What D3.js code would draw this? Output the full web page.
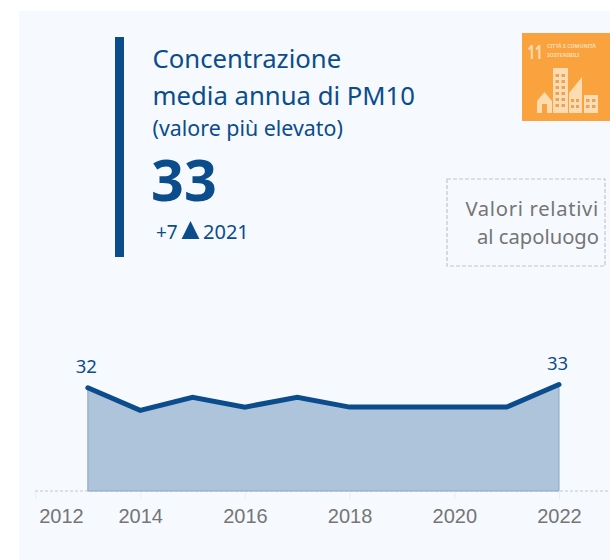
<!DOCTYPE html>
<html>
<head>
    <meta charset="utf-8">
    <title>Concentrazione media annua di PM10</title>
    <script src="https://d3js.org/d3.v7.min.js"></script>
    <style>
        body { margin: 0; background: #fff; }
        svg { display: block; font-family: "Noto Sans", "Open Sans", sans-serif; }
        .blue { fill: #0b4c8c; }
        .grey { fill: #757575; }
    </style>
</head>
<body>
    <svg id="chart" width="610" height="560"></svg>
    <script>
        // dati
        const years = [2013, 2014, 2015, 2016, 2017, 2018, 2019, 2020, 2021, 2022];
        const values = [32, 25, 29, 26, 29, 26, 26, 26, 26, 33];
        const tickYears = [2012, 2014, 2016, 2018, 2020, 2022];
        const titleLines = ["Concentrazione", "media annua di PM10"];
        const noteLines = ["Valori relativi", "al capoluogo"];

        const series = years.map((y, i) => ({year: y, value: values[i]}));

        const svg = d3.select("#chart");
        svg.append("rect").attr("x", 19).attr("y", 11).attr("width", 591).attr("height", 549).attr("fill", "#f6faff");

        // scale
        const x = d3.scaleLinear().domain([2012, 2022]).range([35.5, 559]);
        const y = d3.scaleLinear().domain([0, 33]).range([491, 384.5]);

        const area = d3.area().x(d => x(d.year)).y0(y(0)).y1(d => y(d.value));
        const line = d3.line().x(d => x(d.year)).y(d => y(d.value));

        // asse x
        const axis = svg.append("g")
            .attr("transform", `translate(0,${y(0)})`)
            .call(d3.axisBottom(x).tickValues(tickYears).tickFormat(d3.format("d")).tickSize(8).tickPadding(10));
        axis.select(".domain").remove();
        axis.selectAll("line").attr("stroke", "#e9edf0");
        axis.selectAll("text").attr("fill", "#757575").style("font-size", "20px");
        axis.selectAll(".tick").filter(d => d === 2012).select("text").attr("dx", 25.5);

        svg.append("line")
            .attr("x1", 35).attr("x2", 610).attr("y1", y(0)).attr("y2", y(0))
            .attr("stroke", "#c4c8cc").attr("stroke-width", 1).attr("stroke-dasharray", "3 2");

        // area e linea
        svg.append("path").datum(series).attr("d", area)
            .attr("fill", "#aec4da").attr("stroke", "#86a6c6").attr("stroke-width", 1);
        svg.append("path").datum(series).attr("d", line)
            .attr("fill", "none").attr("stroke", "#0b4c8c").attr("stroke-width", 5)
            .attr("stroke-linecap", "round").attr("stroke-linejoin", "miter");

        // etichette primo e ultimo valore
        svg.selectAll(".endLabel")
            .data([series[0], series[series.length - 1]])
            .enter()
            .append("text")
            .attr("class", "endLabel blue")
            .attr("x", d => x(d.year) - 1.5)
            .attr("y", d => y(d.value) - 15)
            .attr("text-anchor", "middle")
            .style("font-size", "18.5px")
            .text(d => d.value);

        // intestazione
        svg.append("rect").attr("x", 115).attr("y", 37).attr("width", 9).attr("height", 220).attr("fill", "#0b4c8c");
        svg.selectAll(".title")
            .data(titleLines)
            .enter()
            .append("text")
            .attr("class", "title blue")
            .attr("x", 152.5)
            .attr("y", (d, i) => 68 + i * 37)
            .style("font-size", "25.7px")
            .text(d => d);
        svg.append("text").attr("class", "blue").attr("x", 152.5).attr("y", 136)
            .style("font-size", "21.4px").text("(valore più elevato)");
        svg.append("text").attr("class", "blue").attr("x", 151).attr("y", 201)
            .style("font-size", "57.5px").style("font-weight", 700).text(series[series.length - 1].value);
        svg.append("text").attr("class", "blue").attr("x", 156).attr("y", 239)
            .style("font-size", "19px").text("+7");
        svg.append("path").attr("class", "blue")
            .attr("d", d3.symbol().type(d3.symbolTriangle).size(130))
            .attr("transform", "translate(190.5,233) scale(1.03,1.2)");
        svg.append("text").attr("class", "blue").attr("x", 203).attr("y", 239)
            .style("font-size", "20px").text("2021");

        // nota
        svg.append("rect").attr("x", 447).attr("y", 179).attr("width", 158).attr("height", 87)
            .attr("fill", "none").attr("stroke", "#c2c5c8").attr("stroke-width", 1.2).attr("stroke-dasharray", "4 2");
        svg.selectAll(".note")
            .data(noteLines)
            .enter()
            .append("text")
            .attr("class", "note grey")
            .attr("x", 599)
            .attr("y", (d, i) => 216 + i * 28)
            .attr("text-anchor", "end")
            .style("font-size", "20.2px")
            .style("letter-spacing", (d, i) => i === 0 ? "0.7px" : "0")
            .text(d => d);

        // icona SDG 11
        const icon = svg.append("g");
        const orange = "#f9a23e";
        const pale = "#fcdcb0";
        const dark = "#e8a45e";
        icon.append("rect").attr("x", 522).attr("y", 33).attr("width", 88).attr("height", 88).attr("fill", orange);
        icon.append("text").attr("transform", "translate(527.5,58.5) scale(0.65,1)").attr("fill", pale)
            .style("font-size", "20px").style("font-weight", 700).text("11");
        icon.append("text").attr("x", 547).attr("y", 47.5).attr("fill", pale)
            .style("font-size", "5.2px").style("font-weight", 700).text("CITTÀ E COMUNITÀ");
        icon.append("text").attr("x", 547).attr("y", 56.5).attr("fill", pale)
            .style("font-size", "5.2px").style("font-weight", 700).text("SOSTENIBILI");
        icon.append("rect").attr("x", 553).attr("y", 68).attr("width", 15).attr("height", 45).attr("fill", pale);
        icon.append("path").attr("d", "M569,113V93L582,77V113Z").attr("fill", pale);
        icon.append("rect").attr("x", 584).attr("y", 95).attr("width", 14).attr("height", 18).attr("fill", pale);
        icon.append("path").attr("d", "M537,113V101L544.5,92L552,101V113Z").attr("fill", pale);
        icon.append("rect").attr("x", 542).attr("y", 104).attr("width", 5).attr("height", 9).attr("fill", orange);
        // finestre
        [74, 80, 86, 92, 98, 104].forEach(wy => {
            [555.5, 561.5].forEach(wx => {
                icon.append("rect").attr("x", wx).attr("y", wy).attr("width", 3.5).attr("height", 3).attr("fill", dark);
            });
        });
        [99, 105].forEach(wy => {
            [586, 592].forEach(wx => {
                icon.append("rect").attr("x", wx).attr("y", wy).attr("width", 3.5).attr("height", 3).attr("fill", dark);
            });
            [571, 576].forEach(wx => {
                icon.append("rect").attr("x", wx).attr("y", wy).attr("width", 3).attr("height", 3).attr("fill", dark);
            });
        });
    </script>
</body>
</html>
